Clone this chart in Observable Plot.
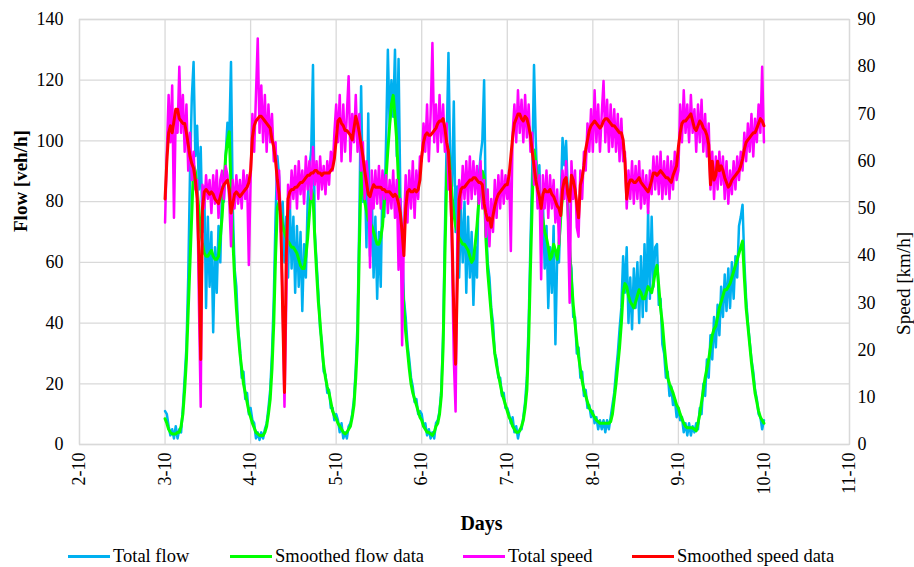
<!DOCTYPE html>
<html><head><meta charset="utf-8">
<script src="https://cdn.jsdelivr.net/npm/d3@7"></script>
<script src="https://cdn.jsdelivr.net/npm/@observablehq/plot@0.6"></script>
<style>
html,body{margin:0;padding:0;background:#fff;}
body{width:914px;height:567px;overflow:hidden;font-family:"Liberation Serif","Times New Roman",serif;color:#000;}
#legend{position:relative;width:914px;height:22px;font-size:18.5px;}
.item{position:absolute;top:0;height:22px;line-height:22px;white-space:nowrap;}
.sw{display:inline-block;width:42px;height:3px;vertical-align:middle;margin-right:3px;position:relative;top:-1px;}
</style></head><body>
<div id="chart"></div>
<div id="legend"></div>
<script>
// ---- DATA ----
const dayLabels = ["2-10","3-10","4-10","5-10","6-10","7-10","8-10","9-10","10-10","11-10"];
const flowTicks = [0,20,40,60,80,100,120,140];
const speedTicks = [0,10,20,30,40,50,60,70,80,90];
const seriesNames = ["Total flow","Smoothed flow data","Total speed","Smoothed speed data"];
const seriesColors = ["#00B0F0","#00FF00","#FF00FF","#FF0000"];
const stepHours = 0.5; // half-hourly readings, starting 3-10 00:00

const totalFlow = [
 11,10,6,3,5,2,6,2, 5,4,12,22,32,55,90,114, 126,95,105,84,98,70,85,45, 75,52,70,37,65,50,72,60, 85,80,95,106,100,126,78,58, 52,38,32,22,24,15,17,10,
 12,8,7,2,4,1.5,4,2, 5,7,12,18,30,48,75,95, 88,70,80,60,75,55,80,58, 75,50,72,52,70,44,66,55, 80,91,97,125,70,60,50,38, 34,24,23,17,18,12,12,8,
 10,8,4,7,2,4,2,6, 7,10,15,25,40,75,118,80, 92,65,109,62,82,55,75,48, 70,52,88,75,100,130,105,120, 108,130,95,127,82,68,48,42, 33,28,22,19,14,15,10,11,
 10,6,7,3,5,2,4,2, 7,8,11,18,36,70,100,129, 92,85,113,70,85,55,78,60, 80,50,75,55,70,46,65,55, 88,95,100,120,75,60,55,45, 40,30,28,22,22,16,17,12,
 12,10,7,9,4,6,2,5, 5,9,14,22,40,66,90,125, 100,82,92,70,80,58,72,45, 65,50,72,33,62,60,80,101, 92,100,82,62,58,42,42,30, 32,22,24,16,18,12,13,9,
 11,7,9,5,8,5,8,4, 8,5,9,13,17,24,30,38, 45,62,50,65,40,55,38,58, 45,60,40,62,42,66,44,77, 48,75,52,65,66,46,48,33, 30,22,24,16,19,13,15,9,
 12,8,9,4,7,3,7,3, 6,4,7,5,12,10,20,16, 28,22,36,28,42,32,46,36, 52,42,56,44,58,45,60,48, 62,55,72,75,79,60,48,40, 34,28,24,18,15,10,9,5, 8
];
const smoothedFlow = [
 8.5,7,5,4,3.5,3.5,3.5,4, 4,6,10,18,28,44,60,76, 92,90,84,77,70,66,63,62, 62,63,64,62,61,61,62,68, 75,85,95,100,103,85,68,55, 45,37,30,25,20,17,14,11,
 9,7,5.5,4,3.5,3,3,3, 4,6,10,15,25,40,62,78, 80,76,72,70,68,67,66,65, 65,64,63,61,59,58,58,62, 68,76,84,82,68,57,47,40, 32,26,22,19,17,14,11,9.5,
 8.5,7,6,5,4,3.5,4,5, 6,9,13,22,34,65,90,84, 80,77,74,73,72,70,68,66, 66,68,72,80,88,97,105,112, 115,108,100,86,70,56,45,37, 31,25,20,17,15,13,11,9,
 8,6,5,4,4,3.5,3,4, 6,7,10,16,32,62,88,97, 90,82,76,72,70,68,67,66, 66,65,64,62,60,61,66,72, 80,86,90,88,68,57,50,43, 36,30,26,23,20,17,15,13,
 11,9,8,6,5,4,4,4.5, 6,8,12,18,34,58,80,97, 93,86,80,78,74,70,68,65, 61,62,66,64,61,66,75,82, 86,88,78,65,54,46,40,34, 29,25,21,18,16,14,12,11,
 10,9,8,7.5,7,7,7,7, 7,7,7.5,10,15,20,26,32, 40,50,53,52,49,47,46,45, 47,49,51,50,48,48,50,52, 51,50,53,57,59,52,45,40, 33,27,22,20,18.5,17,15,13,
 12,10,8.5,7,6,5.5,5.5,5.5, 5.5,5,4.5,7,10,14,18,22, 25,28,32,36,38,39,42,45, 47,49,51,51,52,53,55,57, 59,61,63,65,67,55,45,39, 33,27,22,17,14,11,9,8, 7
];
const totalSpeed = [
 47,62,74,64,76,48,70,66, 80,66,74,62,72,58,66,56, 62,54,56,30,8,55,50,57, 52,56,49,57,51,58,48,56, 58,52,59,57,52,42,56,50, 57,51,56,50,58,52,57,38,
 56,70,62,74,86,66,76,64, 74,62,72,64,70,60,64,52, 58,44,30,8,30,55,50,58, 52,59,50,60,53,58,51,61, 54,60,52,63,55,60,52,61, 54,59,53,60,55,62,58,66,
 72,64,74,60,72,62,70,78, 60,70,64,74,62,70,58,64, 52,60,56,37.5,58,50,58,51, 59,50,58,52,57,49,56,50, 58,48,56,37,52,21,45,57, 47,58,50,60,48,58,52,61,
 60,68,62,72,60,70,85,64, 72,62,74,64,72,62,68,54, 58,40,18,7,45,56,50,59, 52,60,51,61,52,60,53,59, 51,60,50,56,44,54,42,52, 45,56,48,57,50,58,51,57,
 52,58,41,66,72,64,75,66, 73,64,74,65,72,62,66,55, 60,50,57,35,57,50,58,48, 57,50,56,47,54,42.5,52,58, 52,60,48,30,60,52,58,46, 44,58,52,62,58,68,62,71,
 62,75,64,72,62,70,77,64, 73,62,72,63,71,62,70,60, 69,60,62,50,58,52,60,51, 59,52,60,50,58,51,57,49, 58,53,61,54,61,53,62,52, 60,53,61,52,60,54,62,56,
 58,72,64,75,66,72,64,74, 66,71,62,72,64,73,62,70, 61,68,54,62,52,61,54,62, 55,61,52,60,51,58,53,60, 54,61,56,62,58,66,60,68, 62,70,61,69,64,72,66,80, 64
];
const smoothedSpeed = [
 52,60,66,67.5,66,68.5,71,71, 69,68.5,68,68,66,63.5,61,59.5, 58.5,56,52,40,18,50,53.5,54, 53.5,53,53.5,53,52,51.5,51,52.5, 54,55,55.5,56,54,49,51,53, 53.5,53,52.5,53,53.5,54,54.5,55.5,
 58,65,67.5,68.5,69,69.5,69.5,69, 68.5,68,67.5,67,64.5,63,60,56, 53,47,28,11,40,52,53.5,54, 54,54.5,54.5,55,55.5,55.5,56,56.5, 57,57,57.5,57.5,58,58,57.5,57.5, 57,57.5,57.5,57.5,57.5,58,58.5,60.5,
 64.5,68.5,69,68,67.5,66.5,66.5,66, 65.5,64.5,67,69.5,68,66,63.5,61, 58,55.5,53,52.5,54,55,54.5,54.5, 54.5,54.5,54,54,53.5,53.5,53.5,53, 52.5,53,52.5,51,49,45,40,50, 53.5,54,53.5,53.5,54,53.5,54,56,
 61,64,65.5,66,65.5,65.5,66,66.5, 67,68,68.5,68.5,69,67,64,62, 55,45,28,17,35,52,54,54.5, 54.5,55,55.5,56,56,56.5,56.5,56, 55.5,55.5,55,51,49,47.5,48,46, 48.5,50.5,52,53,53.5,54,54.5,55,
 55,57,61,65,68,69,70,70, 69,68.5,69.5,69,67.5,65.5,62,59, 56,54,52.5,50,53,54,53.5,53.5, 54,53,52.5,51.5,50.5,50,48.5,54, 56,56.5,53,51.5,57,56,54,51, 48,55,56.5,59,62.5,64.5,66.5,67.5,
 68,68.5,68,67.5,67,67.5,68.5,69, 69,68.5,68,67.5,67.5,67,66.5,66, 66,64.5,60,52,55,56,56,55.5, 55.5,56,56.5,55.5,55,54.5,54,53.5, 54.5,56,57.5,57.5,57,57.5,58,57.5, 57,56.5,56.5,56,55.5,57,58,59,
 63,66,68,68.5,68.5,69,69.5,70, 68.5,67,66.5,67.5,68.5,68,67,66.5, 65.5,63.5,55,60,56,57,60,58, 59,58,56.5,55.5,54.5,55,56,56.5, 57,57.5,58,59,60.5,62.5,64,64.5, 65,65.5,66,66,67,68,69,68.5, 67.5
];

// ---- BUILD ----
const flowMax = 140, speedMax = 90, k = flowMax / speedMax; // speed plotted on secondary axis
const toRows = (arr, scale = 1) => arr.map((v, i) => ({t: i * stepHours, v: v * scale}));
const dayTickPos = dayLabels.map((d, i) => (i - 1) * 24);
const font = "'Liberation Serif', 'Times New Roman', serif";

const chart = Plot.plot({
  width: 914, height: 545,
  marginTop: 19, marginBottom: 101, marginLeft: 79, marginRight: 65,
  style: {fontFamily: font, fontSize: "18px", color: "#000", background: "#fff", overflow: "visible"},
  x: {domain: [dayTickPos[0], dayTickPos[dayTickPos.length - 1]]},
  y: {domain: [0, flowMax]},
  marks: [
    Plot.gridY(flowTicks, {stroke: "#d9d9d9", strokeOpacity: 1, strokeWidth: 1.3}),
    Plot.gridX(dayTickPos, {stroke: "#d9d9d9", strokeOpacity: 1, strokeWidth: 1.3}),
    Plot.frame({stroke: "#d9d9d9", strokeWidth: 1.3}),
    Plot.axisY(flowTicks, {tickSize: 0, tickPadding: 16, label: null}),
    Plot.axisY(speedTicks.map(s => s * k), {anchor: "right", tickSize: 0, tickPadding: 8, label: null,
      tickFormat: v => String(Math.round(v / k))}),
    Plot.axisX(dayTickPos, {tickSize: 0, tickPadding: 8, tickRotate: -90, label: null,
      tickFormat: (v) => dayLabels[dayTickPos.indexOf(v)]}),
    Plot.line(toRows(totalFlow), {x: "t", y: "v", stroke: seriesColors[0], strokeWidth: 2.5}),
    Plot.line(toRows(smoothedFlow), {x: "t", y: "v", stroke: seriesColors[1], strokeWidth: 3}),
    Plot.line(toRows(totalSpeed, k), {x: "t", y: "v", stroke: seriesColors[2], strokeWidth: 2.5}),
    Plot.line(toRows(smoothedSpeed, k), {x: "t", y: "v", stroke: seriesColors[3], strokeWidth: 3}),
    Plot.text(["Flow [veh/h]"], {frameAnchor: "left", dx: -59, rotate: -90, fontWeight: "bold", fontSize: 19}),
    Plot.text(["Speed [km/h]"], {frameAnchor: "right", dx: 54, rotate: -90, fontSize: 19}),
    Plot.text(["Days"], {frameAnchor: "bottom", dy: 85, dx: 17, fontWeight: "bold", fontSize: 20})
  ]
});
document.getElementById("chart").appendChild(chart);

const lg = document.getElementById("legend");
const legendX = [68, 230, 463, 632];
seriesNames.forEach((name, i) => {
  const it = document.createElement("div");
  it.className = "item";
  it.style.left = legendX[i] + "px";
  const sw = document.createElement("span");
  sw.className = "sw";
  sw.style.background = seriesColors[i];
  it.appendChild(sw);
  it.appendChild(document.createTextNode(name));
  lg.appendChild(it);
});
</script>
</body></html>
